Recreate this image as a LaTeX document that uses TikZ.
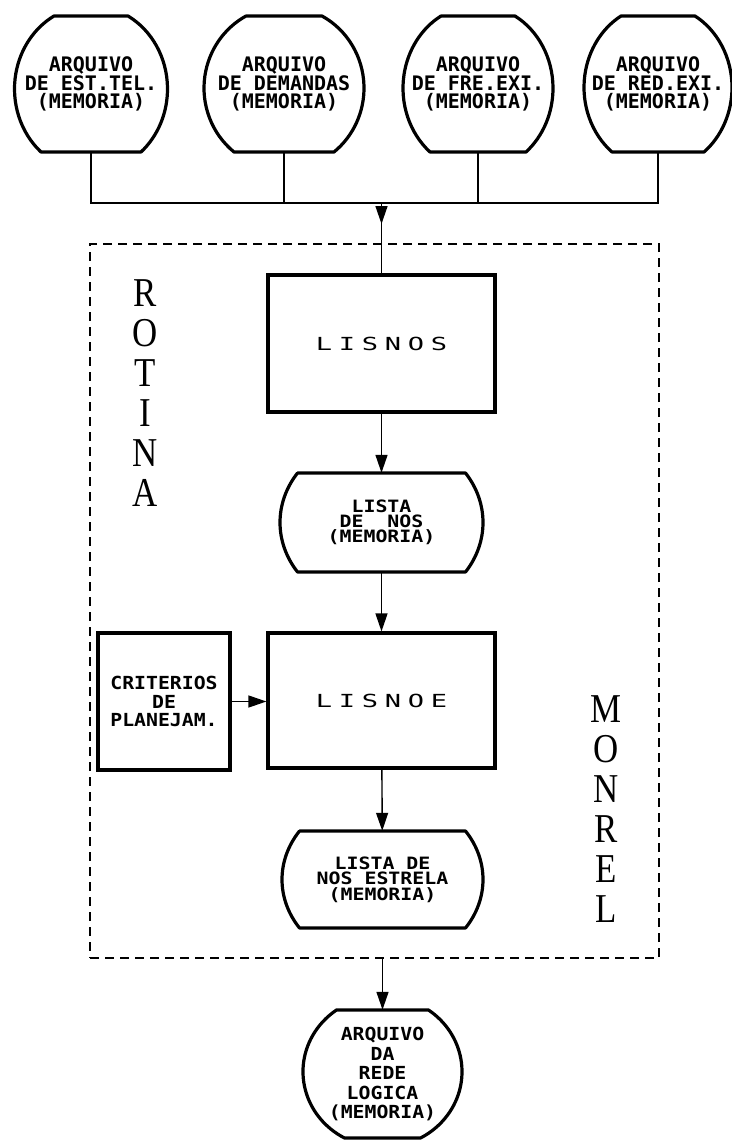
\documentclass[tikz,border=0pt]{standalone}
\usepackage{fontspec}
\usepackage{graphicx}
\usetikzlibrary{arrows.meta,calc}
\newfontfamily\monofont{DejaVu Sans Mono}
\newfontfamily\monowide{DejaVu Sans Mono}[FakeStretch=1.1]
\newfontfamily\monowider{DejaVu Sans Mono}[FakeStretch=1.17]
\newfontfamily\serifont{Liberation Serif}
\newcommand\mf[2]{\monofont\bfseries\fontsize{#1}{#2}\selectfont}
\newcommand\mw[2]{\monowide\bfseries\fontsize{#1}{#2}\selectfont}
\newcommand\mx[2]{\monowider\bfseries\fontsize{#1}{#2}\selectfont}
\newcommand\lisfont{\monofont\fontsize{18}{18}\selectfont}
\newcommand\wl[1]{\makebox[23pt]{\scalebox{1.5}[1]{#1}}}
\newcommand\nl[1]{\scalebox{0.85}[1]{#1}}
% #1 node, #2 width, #3 height, #4 top chord half-width, #5 bottom chord half-width
\newcommand\drum[5]{%
  \pgfmathsetmacro\da{#2/2}%
  \pgfmathsetmacro\dtt{acos(#4/\da)}%
  \pgfmathsetmacro\dtb{acos(#5/\da)}%
  \pgfmathsetmacro\db{#3/(sin(\dtt)+sin(\dtb))}%
  \draw[outline] ($(#1.center)+(-#4,#3/2)$) -- ($(#1.center)+(#4,#3/2)$)
    arc[start angle=\dtt, end angle=-\dtb, x radius=\da, y radius=\db]
    -- ($(#1.center)+(-#5,-#3/2)$)
    arc[start angle=180+\dtb, end angle=180-\dtt, x radius=\da, y radius=\db]
    -- cycle;}
\begin{document}
\begin{tikzpicture}[x=1pt,y=1pt,
  txt/.style={align=center, inner sep=0pt, draw=none},
  box/.style={draw, line width=3.2pt, inner sep=0pt, align=center},
  outline/.style={line width=3.2pt, line join=round},
  conn/.style={line width=1.4pt},
  arr/.style={conn, -{Triangle[length=18pt,width=12pt]}},
  frame/.style={draw, line width=1.4pt, dash pattern=on 9pt off 6pt, inner sep=0pt},
  bigletters/.style={align=center, inner sep=0pt, font={\serifont\fontsize{41}{40}\selectfont}}]
\useasboundingbox (0,0) rectangle (731,-1142);

% top files
\node[txt, font={\mf{20}{18.5}}, minimum width=153, minimum height=136] (o1) at (91,-84) {ARQUIVO\\DE EST.TEL.\\(MEMORIA)};
\node[txt, font={\mf{20}{18.5}}, minimum width=160, minimum height=136] (o2) at (284,-84) {ARQUIVO\\DE DEMANDAS\\(MEMORIA)};
\node[txt, font={\mf{20}{18.5}}, minimum width=150, minimum height=136] (o3) at (478,-84) {ARQUIVO\\DE FRE.EXI.\\(MEMORIA)};
\node[txt, font={\mf{20}{18.5}}, minimum width=148, minimum height=136] (o4) at (658,-84) {ARQUIVO\\DE RED.EXI.\\(MEMORIA)};
\drum{o1}{153}{136}{37}{50}
\drum{o2}{160}{136}{38}{50}
\drum{o3}{150}{136}{37}{48}
\drum{o4}{148}{136}{37}{46}

% dashed routine frame
\node[frame, minimum width=569, minimum height=714] (frame) at (374.5,-601) {};

% process boxes
\node[box, font=\lisfont, minimum width=227, minimum height=137] (lisnos) at (381.5,-343.5) {\wl{L}\wl{I}\wl{S}\wl{N}\wl{O}\wl{S}};
\node[txt, font={\mx{17}{15}}, minimum width=203, minimum height=99] (lista) at (381.5,-522.5) {LISTA\\DE~~NOS\\(MEMORIA)};
\drum{lista}{203}{99}{84}{84}
\node[box, font=\lisfont, minimum width=227, minimum height=135] (lisnoe) at (381.5,-700.5) {\wl{L}\wl{I}\wl{S}\wl{N}\wl{O}\wl{E}};
\node[box, font={\mw{18}{18.5}}, minimum width=132, minimum height=137] (crit) at (164,-701.5) {CRITERIOS\\DE\\PLANEJAM.};
\node[txt, font={\mx{17}{15.5}}, minimum width=201, minimum height=97] (estrela) at (382.5,-879.5) {LISTA DE\\NOS ESTRELA\\(MEMORIA)};
\drum{estrela}{201}{97}{83}{83}
\node[txt, font={\mw{18}{19.5}}, minimum width=159, minimum height=128] (logica) at (382.5,-1074) {ARQUIVO\\DA\\REDE\\LOGICA\\(MEMORIA)};
\drum{logica}{159}{128}{46}{38}

% side labels
\node[bigletters] (rotina) at (145,-393.5) {\nl{R}\\\nl{O}\\\nl{T}\\\nl{I}\\\nl{N}\\\nl{A}};
\node[bigletters] (monrel) at (606,-809.5) {\nl{M}\\\nl{O}\\\nl{N}\\\nl{R}\\\nl{E}\\\nl{L}};

% connectors
\coordinate (busy) at (0,-203);
\draw[conn] (o1.south) -- (o1.south |- busy) -- (o4.south |- busy) -- (o4.south);
\draw[conn] (o2.south) -- (o2.south |- busy);
\draw[conn] (o3.south) -- (o3.south |- busy);
\coordinate (inarrow) at ($(lisnos.north |- busy)+(0,-21)$);
\draw[conn] (lisnos.north |- busy) -- (lisnos.north);
\draw[arr] (lisnos.north |- busy) -- (inarrow);
\draw[arr] (lisnos) -- (lista);
\draw[arr] (lista) -- (lisnoe);
\draw[arr] (crit.east) -- (crit.east -| lisnoe.west);
\draw[arr] (lisnoe) -- (estrela);
\draw[arr] (logica.north |- frame.south) -- (logica.north);
\end{tikzpicture}
\end{document}
